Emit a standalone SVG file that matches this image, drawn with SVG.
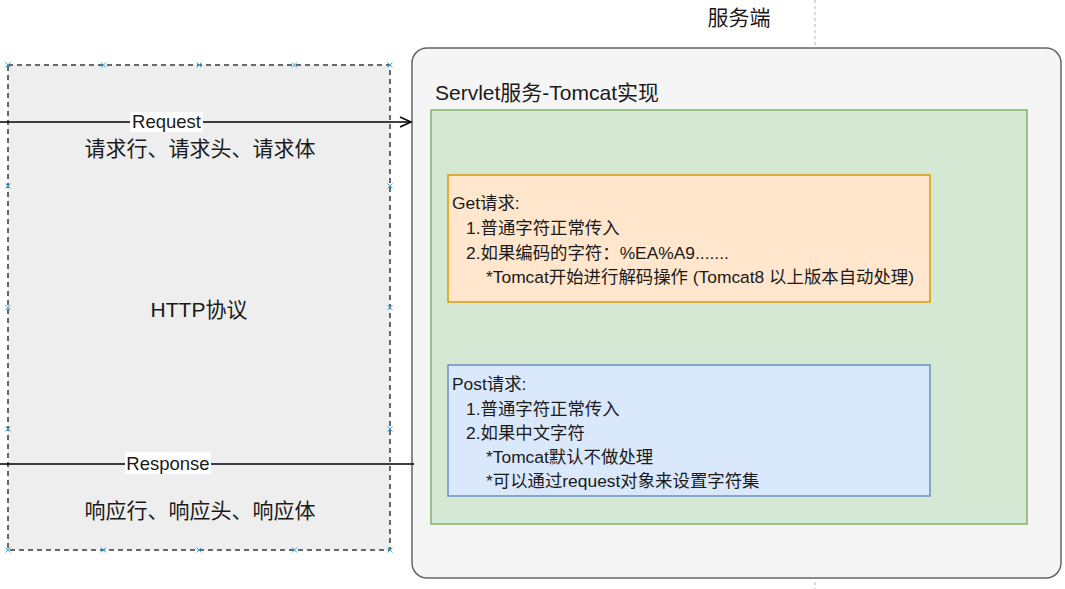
<svg xmlns="http://www.w3.org/2000/svg" width="1065" height="589" viewBox="0 0 1065 589">
<defs>
<style>
text{font-family:"Liberation Sans","Noto Sans CJK SC",sans-serif;fill:#1a1a1a}
.big{font-size:21px}
.sm{font-size:17.4px}
.mk{stroke:#29a8e0;stroke-width:1}
.lbl{font-size:18.5px}
</style>
<marker id="open" markerWidth="14" markerHeight="12" refX="12" refY="6" orient="auto" markerUnits="userSpaceOnUse">
<path d="M1,1 L12,6 L1,11" fill="none" stroke="#000" stroke-width="1.5"/>
</marker>
<g id="x"><path class="mk" d="M-2.5,-2.5 L2.5,2.5 M-2.5,2.5 L2.5,-2.5"/></g>
</defs>
<rect width="1065" height="589" fill="#fff"/>
<g id="divider">
<line x1="815" y1="0" x2="815" y2="589" stroke="#b3b3b3" stroke-dasharray="3 3"/>
</g>
<g id="server-label"><text class="big" x="739" y="25" text-anchor="middle">服务端</text></g>
<g id="http">
<rect x="8" y="65" width="382" height="485" fill="#eeeeee" stroke="#36393d" stroke-width="1.5" stroke-dasharray="5 4"/>
<text class="big" x="199" y="317" text-anchor="middle">HTTP协议</text>
<text class="big" x="200" y="156" text-anchor="middle">请求行、请求头、请求体</text>
<text class="big" x="200" y="518" text-anchor="middle">响应行、响应头、响应体</text>
<use href="#x" x="8" y="65"/><use href="#x" x="103.5" y="65"/><use href="#x" x="199" y="65"/><use href="#x" x="294.5" y="65"/><use href="#x" x="390" y="65"/>
<use href="#x" x="8" y="550"/><use href="#x" x="103.5" y="550"/><use href="#x" x="199" y="550"/><use href="#x" x="294.5" y="550"/><use href="#x" x="390" y="550"/>
<use href="#x" x="8" y="186"/><use href="#x" x="8" y="307.5"/><use href="#x" x="8" y="429"/>
<use href="#x" x="390" y="186"/><use href="#x" x="390" y="307.5"/><use href="#x" x="390" y="429"/>
</g>
<g id="server">
<rect x="412" y="48" width="649" height="530" rx="15" fill="#f5f5f5" stroke="#666666" stroke-width="1.5"/>
<text class="big" x="435" y="100">Servlet服务-Tomcat实现</text>
</g>
<g id="tomcat">
<rect x="431" y="110" width="596" height="414" fill="#d5e8d4" stroke="#82b366" stroke-width="1.5"/>
</g>
<g id="get">
<rect x="448" y="175" width="482" height="127" fill="#ffe6cc" stroke="#d79b00" stroke-width="1.5"/>
<text class="sm" x="452" y="209">Get请求:</text>
<text class="sm" x="466" y="234">1.普通字符正常传入</text>
<text class="sm" x="466" y="259">2.如果编码的字符：%EA%A9.......</text>
<text class="sm" x="486" y="283">*Tomcat开始进行解码操作 (Tomcat8 以上版本自动处理)</text>
</g>
<g id="post">
<rect x="448" y="365" width="482" height="131" fill="#dae8fc" stroke="#6c8ebf" stroke-width="1.5"/>
<text class="sm" x="452" y="390">Post请求:</text>
<text class="sm" x="466" y="415">1.普通字符正常传入</text>
<text class="sm" x="466" y="439">2.如果中文字符</text>
<text class="sm" x="486" y="463">*Tomcat默认不做处理</text>
<text class="sm" x="486" y="487">*可以通过request对象来设置字符集</text>
</g>
<g id="connectors">
<line x1="0" y1="122" x2="411" y2="122" stroke="#000" stroke-width="1.5" marker-end="url(#open)"/>
<rect x="130" y="112" width="73" height="20" fill="#fff"/>
<text class="lbl" x="166.5" y="128" text-anchor="middle">Request</text>
<line x1="0" y1="464" x2="414" y2="464" stroke="#000" stroke-width="1.5"/>
<rect x="125" y="452" width="86" height="22" fill="#fff"/>
<text class="lbl" x="168" y="470" text-anchor="middle">Response</text>
</g>
</svg>
